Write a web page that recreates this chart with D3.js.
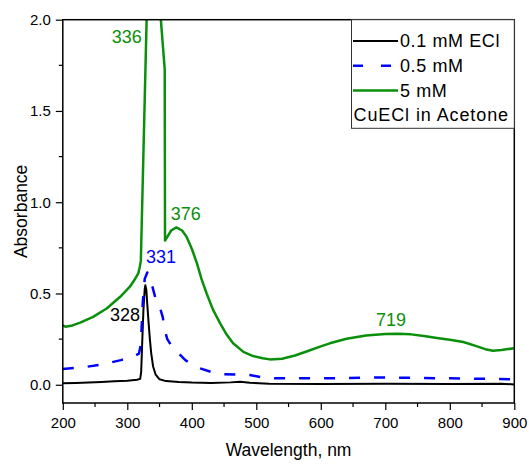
<!DOCTYPE html>
<html>
<head>
<meta charset="utf-8">
<script src="https://cdn.jsdelivr.net/npm/d3@7"></script>
<style>
  body { margin: 0; background: #fff; }
  svg text { font-family: Arial, "Liberation Sans", sans-serif; }
</style>
</head>
<body>
<div id="chart"></div>
<script>
// spectra (wavelength nm, absorbance)
var ecl01 = [
  [200, 0.008], [220, 0.01], [240, 0.012], [260, 0.015], [280, 0.019], [300, 0.022],
  [315, 0.027], [320, 0.032], [321.5, 0.07], [323, 0.22], [325, 0.41], [327, 0.525],
  [328, 0.545], [329.5, 0.52], [331, 0.44], [333, 0.34], [335, 0.25], [337, 0.175],
  [340, 0.1], [344, 0.055], [350, 0.03], [360, 0.02], [380, 0.015], [400, 0.012],
  [430, 0.01], [460, 0.013], [475, 0.016], [490, 0.011], [520, 0.006], [600, 0.004],
  [700, 0.005], [800, 0.004], [880, 0.006], [900, 0.002]
];
var ecl05 = [
  [200, 0.086], [230, 0.095], [260, 0.11], [290, 0.135], [310, 0.155], [318, 0.17],
  [321, 0.22], [324, 0.45], [327, 0.58], [331, 0.615], [334, 0.6], [338, 0.55],
  [344, 0.47], [350, 0.43], [355, 0.37], [358, 0.3], [362, 0.25], [370, 0.205],
  [380, 0.17], [390, 0.135], [400, 0.11], [413, 0.09], [430, 0.07], [450, 0.058],
  [490, 0.053], [510, 0.04], [530, 0.035], [600, 0.035], [700, 0.04], [800, 0.035],
  [900, 0.03]
];
var ecl5 = [
  [200, 0.325], [204, 0.318], [215, 0.325], [227, 0.34], [247, 0.372], [268, 0.418],
  [289, 0.482], [304, 0.537], [313, 0.585], [317, 0.61], [319, 0.64], [321, 0.68],
  [332, 2.3], [346, 2.27], [358, 1.73], [358.5, 0.79], [362, 0.81], [368, 0.845],
  [376, 0.862], [385, 0.845], [392, 0.81], [400, 0.745], [408, 0.665], [415, 0.58],
  [423, 0.5], [433, 0.41], [444, 0.336], [454, 0.275], [464, 0.227], [480, 0.18],
  [495, 0.157], [510, 0.145], [521, 0.139], [540, 0.142], [560, 0.16], [580, 0.185],
  [600, 0.21], [614, 0.227], [640, 0.252], [670, 0.27], [700, 0.278], [719, 0.28],
  [740, 0.276], [760, 0.267], [780, 0.256], [800, 0.246], [821, 0.234], [840, 0.213],
  [855, 0.195], [867, 0.186], [880, 0.19], [900, 0.2]
];
var seriesNames = ['0.1 mM ECl', '0.5 mM', '5 mM'];
var seriesColors = ['#000000', '#0000ff', '#0a8f0a'];
var xTicks = [200, 300, 400, 500, 600, 700, 800, 900];
var yTicks = [0.0, 0.5, 1.0, 1.5, 2.0];
// peak labels: text, wavelength, absorbance, anchor, series index
var peaks = [
  ['336', 322.3, 1.87, 'end', 2],
  ['376', 367.3, 0.905, 'start', 2],
  ['719', 709, 0.32, 'middle', 2],
  ['331', 329, 0.665, 'start', 1],
  ['328', 319.7, 0.35, 'end', 0]
];

(function() {
  var W = 529, H = 465;
  var pl = 62.8, pr = 514.3, pt = 19.7, pb = 403;

  var svg = d3.select('#chart').append('svg')
    .attr('width', W).attr('height', H);

  var x = d3.scaleLinear().domain([200, 900]).range([pl, pr]);
  var y = d3.scaleLinear().domain([-0.1, 2.0]).range([pb, pt]);

  svg.append('clipPath').attr('id', 'clip')
    .append('rect')
    .attr('x', pl).attr('y', pt)
    .attr('width', pr - pl).attr('height', pb - pt);

  var line = d3.line().x(d => x(d[0])).y(d => y(d[1]));

  var plot = svg.append('g').attr('clip-path', 'url(#clip)');
  [ecl01, ecl05, ecl5].forEach(function(s, i) {
    plot.append('path')
      .datum(s)
      .attr('d', line)
      .attr('fill', 'none')
      .attr('stroke', seriesColors[i])
      .attr('stroke-width', i == 0 ? 2 : 2.5)
      .attr('stroke-dasharray', i == 1 ? '11,14' : null)
      .attr('stroke-linejoin', 'round');
  });

  // axes
  var xMinor = d3.range(250, 900, 100);
  var yMinor = [0.25, 0.75, 1.25, 1.75];

  var gx = svg.append('g').attr('transform', 'translate(0,' + pb + ')');
  gx.call(d3.axisBottom(x).tickValues(xTicks).tickSize(7).tickPadding(7).tickFormat(d3.format('d')));
  xMinor.forEach(function(v) {
    gx.append('line').attr('x1', x(v)).attr('x2', x(v)).attr('y1', 0).attr('y2', 4)
      .attr('stroke', '#000').attr('stroke-width', 1.2);
  });

  var gy = svg.append('g').attr('transform', 'translate(' + pl + ',0)');
  gy.call(d3.axisLeft(y).tickValues(yTicks).tickSize(7).tickPadding(5).tickFormat(d3.format('.1f')));
  yMinor.forEach(function(v) {
    gy.append('line').attr('x1', 0).attr('x2', -4).attr('y1', y(v)).attr('y2', y(v))
      .attr('stroke', '#000').attr('stroke-width', 1.2);
  });

  [gx, gy].forEach(function(g) {
    g.select('.domain').remove();
    g.selectAll('.tick line').attr('stroke-width', 1.2);
    g.selectAll('.tick text').attr('font-size', 15).attr('fill', '#000')
      .style('font-family', 'Arial, "Liberation Sans", sans-serif');
  });

  // frame
  svg.append('rect')
    .attr('x', pl).attr('y', pt)
    .attr('width', pr - pl).attr('height', pb - pt)
    .attr('fill', 'none').attr('stroke', '#000').attr('stroke-width', 1.5);

  // axis titles
  svg.append('text')
    .attr('x', (pl + pr) / 2).attr('y', 456)
    .attr('text-anchor', 'middle').attr('font-size', 17.5)
    .text('Wavelength, nm');
  svg.append('text')
    .attr('transform', 'translate(27,' + (pt + pb) / 2 + ') rotate(-90)')
    .attr('text-anchor', 'middle').attr('font-size', 17.5)
    .text('Absorbance');

  // peak labels
  peaks.forEach(function(p) {
    svg.append('text')
      .attr('x', x(p[1])).attr('y', y(p[2]))
      .attr('text-anchor', p[3])
      .attr('font-size', 18)
      .attr('fill', seriesColors[p[4]])
      .text(p[0]);
  });

  // legend
  var lg = svg.append('g');
  lg.append('rect')
    .attr('x', 351.5).attr('y', pt)
    .attr('width', pr - 351.5).attr('height', 128.3 - pt)
    .attr('fill', '#fff').attr('stroke', '#333').attr('stroke-width', 1);
  seriesNames.forEach(function(name, i) {
    var by = 47 + i * 24.8;
    lg.append('line')
      .attr('x1', 353).attr('x2', 398).attr('y1', by - 6).attr('y2', by - 6)
      .attr('stroke', seriesColors[i])
      .attr('stroke-width', i == 0 ? 2 : 2.5)
      .attr('stroke-dasharray', i == 1 ? '10,18' : null);
    lg.append('text')
      .attr('x', 400).attr('y', by)
      .attr('font-size', 18)
      .attr('letter-spacing', 0.6)
      .text(name);
  });
  lg.append('text')
    .attr('x', 353.5).attr('y', 121)
    .attr('font-size', 18)
    .attr('letter-spacing', 0.9)
    .text('CuECl in Acetone');
})();
</script>
</body>
</html>
